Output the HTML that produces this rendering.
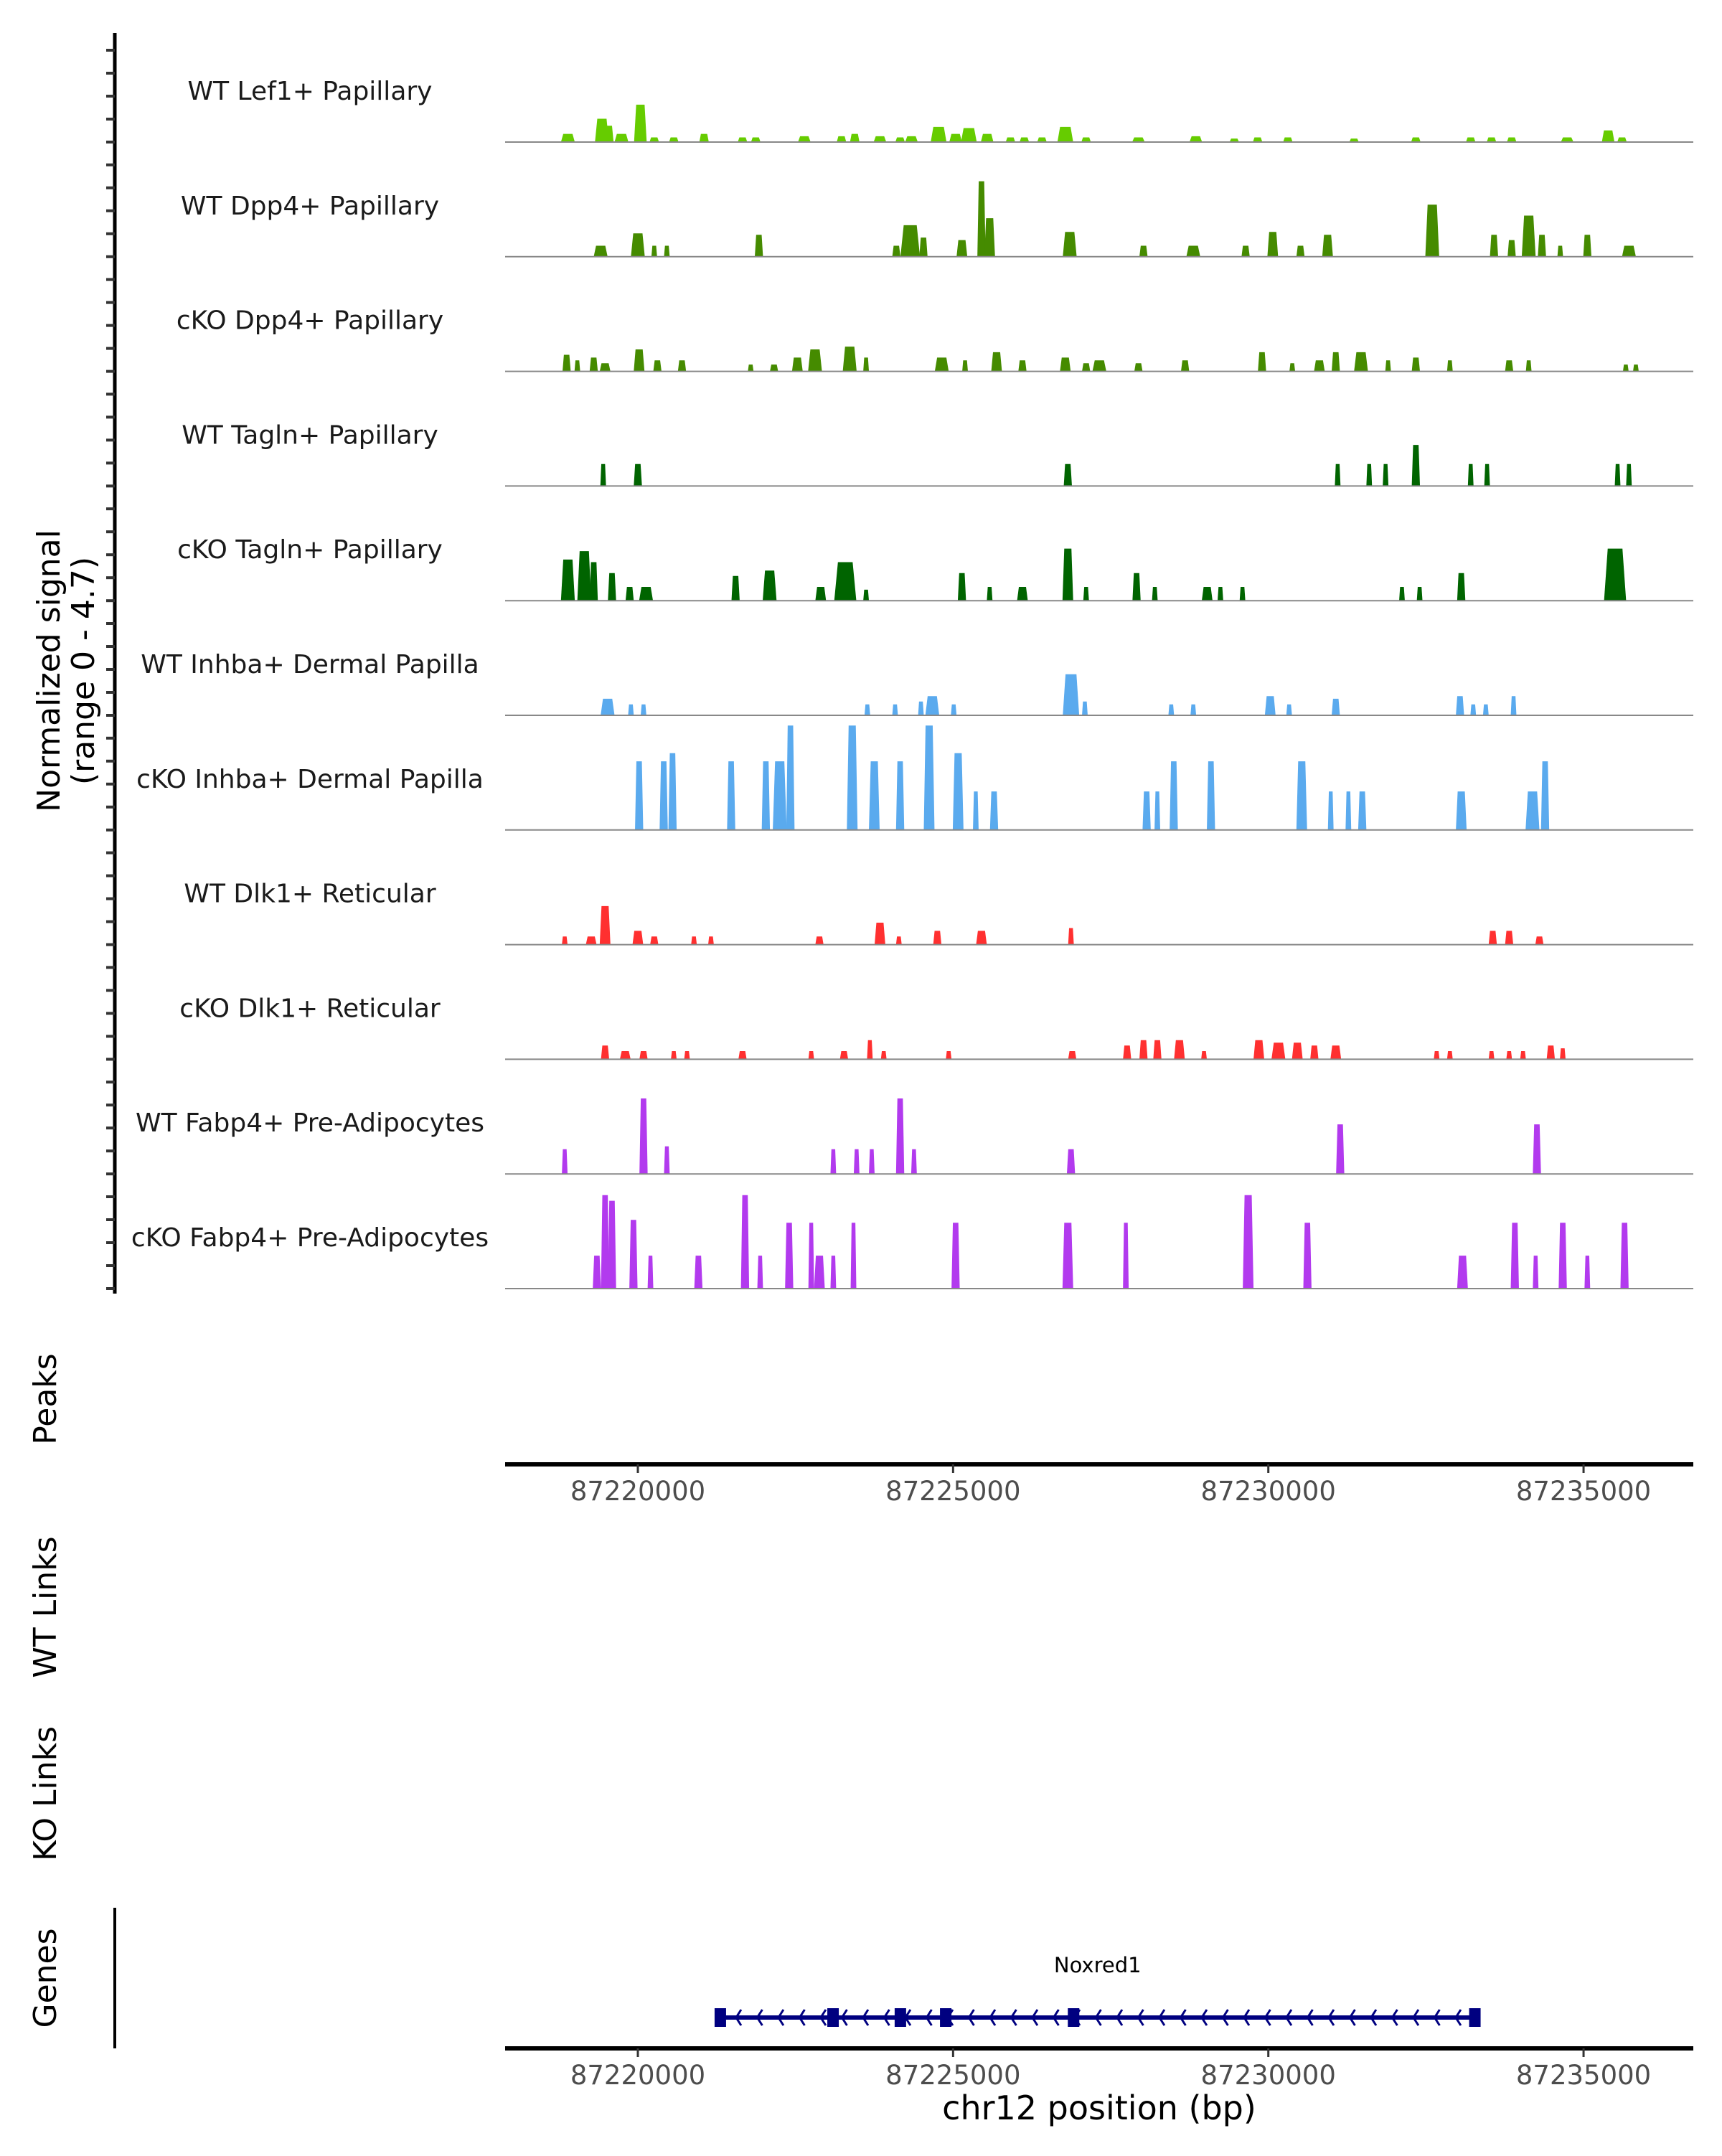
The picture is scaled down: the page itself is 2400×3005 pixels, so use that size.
<!DOCTYPE html>
<html><head><meta charset="utf-8"><style>
html,body{margin:0;padding:0;background:#fff}
svg text{font-family:"DejaVu Sans","Liberation Sans",sans-serif}
</style></head><body>
<svg id="chart" xmlns="http://www.w3.org/2000/svg" width="2400" height="3000" viewBox="0 0 2400 3000">
<rect width="2400" height="3000" fill="#fff"/>
<g id="tracks"></g>
<g id="leftaxis"></g>
<text transform="translate(91,935) rotate(-90)" font-size="44" text-anchor="middle"><tspan x="0" dy="-8">Normalized signal</tspan><tspan x="0" dy="48">(range 0 - 4.7)</tspan></text>
<text transform="translate(78,1950) rotate(-90)" font-size="44" text-anchor="middle">Peaks</text>
<text transform="translate(78,2240) rotate(-90)" font-size="44" text-anchor="middle">WT Links</text>
<text transform="translate(78,2500) rotate(-90)" font-size="44" text-anchor="middle">KO Links</text>
<text transform="translate(78,2757) rotate(-90)" font-size="44" text-anchor="middle">Genes</text>
<line x1="160" y1="2659" x2="160" y2="2855" stroke="#000" stroke-width="4"/>
<g id="xaxes"></g>
<g id="gene"></g>
<text x="1532" y="2954" font-size="46" text-anchor="middle">chr12 position (bp)</text>
</svg>
<script>
// ---- data (positions in kb on chr12, values in normalized signal, widths in kb) ----
const trackNames = ["WT Lef1+ Papillary","WT Dpp4+ Papillary","cKO Dpp4+ Papillary","WT Tagln+ Papillary","cKO Tagln+ Papillary","WT Inhba+ Dermal Papilla","cKO Inhba+ Dermal Papilla","WT Dlk1+ Reticular","cKO Dlk1+ Reticular","WT Fabp4+ Pre-Adipocytes","cKO Fabp4+ Pre-Adipocytes"];
const trackColors = ["#66cc00","#458b00","#458b00","#006400","#006400","#5aaaee","#5aaaee","#ff3030","#ff3030","#b23aee","#b23aee"];
const lef1WT = [[87218.89,0.35,0.22],[87219.43,1.0,0.22],[87219.54,0.7,0.15],[87219.74,0.35,0.22],[87220.04,1.6,0.2],[87220.26,0.2,0.15],[87220.57,0.2,0.15],[87221.05,0.35,0.15],[87221.66,0.2,0.15],[87221.87,0.2,0.15],[87222.64,0.25,0.2],[87223.23,0.25,0.15],[87223.44,0.35,0.15],[87223.84,0.25,0.2],[87224.16,0.2,0.15],[87224.34,0.25,0.2],[87224.77,0.65,0.25],[87225.04,0.35,0.2],[87225.25,0.6,0.25],[87225.54,0.35,0.2],[87225.91,0.2,0.15],[87226.13,0.2,0.15],[87226.41,0.2,0.15],[87226.78,0.65,0.25],[87227.11,0.2,0.15],[87227.94,0.2,0.2],[87228.85,0.25,0.2],[87229.46,0.15,0.15],[87229.83,0.2,0.15],[87230.31,0.2,0.15],[87231.36,0.15,0.15],[87232.34,0.2,0.15],[87233.21,0.2,0.15],[87233.54,0.2,0.15],[87233.86,0.2,0.15],[87234.74,0.2,0.2],[87235.39,0.5,0.2],[87235.61,0.2,0.15]];
const dpp4WT = [[87219.41,0.47,0.22],[87220.00,1.0,0.22],[87220.26,0.47,0.09],[87220.46,0.47,0.09],[87221.92,0.94,0.13],[87224.10,0.47,0.13],[87224.32,1.35,0.31],[87224.53,0.82,0.13],[87225.14,0.71,0.17],[87225.45,3.23,0.13],[87225.58,1.65,0.17],[87226.85,1.06,0.22],[87228.02,0.47,0.13],[87228.81,0.47,0.22],[87229.64,0.47,0.13],[87230.07,1.06,0.17],[87230.51,0.47,0.13],[87230.94,0.94,0.17],[87232.60,2.23,0.22],[87233.58,0.94,0.13],[87233.86,0.71,0.13],[87234.13,1.76,0.22],[87234.34,0.94,0.13],[87234.63,0.47,0.09],[87235.06,0.94,0.13],[87235.72,0.47,0.22]];
const dpp4KO = [[87218.87,0.71,0.13],[87219.04,0.47,0.09],[87219.30,0.59,0.13],[87219.48,0.35,0.17],[87220.02,0.94,0.17],[87220.31,0.47,0.13],[87220.70,0.47,0.13],[87221.79,0.29,0.09],[87222.16,0.29,0.13],[87222.53,0.59,0.17],[87222.81,0.94,0.22],[87223.36,1.06,0.22],[87223.62,0.59,0.09],[87224.82,0.59,0.22],[87225.19,0.47,0.09],[87225.69,0.82,0.17],[87226.10,0.47,0.13],[87226.78,0.59,0.17],[87227.11,0.35,0.13],[87227.32,0.47,0.22],[87227.94,0.35,0.13],[87228.68,0.47,0.13],[87229.90,0.82,0.13],[87230.38,0.35,0.09],[87230.81,0.47,0.17],[87231.07,0.82,0.13],[87231.47,0.82,0.22],[87231.90,0.47,0.09],[87232.34,0.59,0.13],[87232.88,0.47,0.09],[87233.82,0.47,0.13],[87234.13,0.47,0.09],[87235.67,0.29,0.09],[87235.83,0.29,0.09]];
const taglnWT = [[87219.45,0.94,0.09],[87220.00,0.94,0.13],[87226.82,0.94,0.13],[87231.10,0.94,0.09],[87231.60,0.94,0.09],[87231.86,0.94,0.09],[87232.34,1.76,0.13],[87233.21,0.94,0.09],[87233.47,0.94,0.09],[87235.54,0.94,0.09],[87235.72,0.94,0.09]];
const taglnKO = [[87218.89,1.76,0.22],[87219.15,2.12,0.22],[87219.30,1.65,0.13],[87219.59,1.18,0.13],[87219.87,0.59,0.13],[87220.13,0.59,0.22],[87221.55,1.06,0.13],[87222.09,1.29,0.22],[87222.90,0.59,0.17],[87223.29,1.65,0.35],[87223.62,0.47,0.09],[87225.14,1.18,0.13],[87225.58,0.59,0.09],[87226.10,0.59,0.17],[87226.82,2.23,0.17],[87227.11,0.59,0.09],[87227.91,1.18,0.13],[87228.20,0.59,0.09],[87229.03,0.59,0.17],[87229.24,0.59,0.09],[87229.59,0.59,0.09],[87232.12,0.59,0.09],[87232.40,0.59,0.09],[87233.06,1.18,0.13],[87235.50,2.23,0.35]];
const inhbaWT = [[87219.52,0.71,0.22],[87219.89,0.47,0.09],[87220.09,0.47,0.09],[87223.64,0.47,0.09],[87224.08,0.47,0.09],[87224.49,0.59,0.09],[87224.67,0.82,0.22],[87225.01,0.47,0.09],[87226.87,1.76,0.26],[87227.09,0.59,0.09],[87228.46,0.47,0.09],[87228.81,0.47,0.09],[87230.03,0.82,0.17],[87230.33,0.47,0.09],[87231.07,0.71,0.13],[87233.04,0.82,0.13],[87233.25,0.47,0.09],[87233.45,0.47,0.09],[87233.89,0.82,0.09]];
const inhbaKO = [[87220.02,2.94,0.13],[87220.41,2.94,0.13],[87220.55,3.29,0.13],[87221.48,2.94,0.13],[87222.03,2.94,0.13],[87222.25,2.94,0.22],[87222.42,4.47,0.13],[87223.40,4.47,0.17],[87223.75,2.94,0.17],[87224.16,2.94,0.13],[87224.62,4.47,0.17],[87225.08,3.29,0.17],[87225.36,1.65,0.09],[87225.65,1.65,0.13],[87228.07,1.65,0.13],[87228.24,1.65,0.09],[87228.50,2.94,0.13],[87229.09,2.94,0.13],[87230.53,2.94,0.17],[87230.99,1.65,0.09],[87231.27,1.65,0.09],[87231.49,1.65,0.13],[87233.06,1.65,0.17],[87234.19,1.65,0.22],[87234.39,2.94,0.13]];
const dlk1WT = [[87218.84,0.35,0.09],[87219.26,0.35,0.17],[87219.48,1.65,0.17],[87220.00,0.59,0.17],[87220.26,0.35,0.13],[87220.89,0.35,0.09],[87221.16,0.35,0.09],[87222.88,0.35,0.13],[87223.84,0.94,0.17],[87224.14,0.35,0.09],[87224.75,0.59,0.13],[87225.45,0.59,0.17],[87226.87,0.71,0.09],[87233.56,0.59,0.13],[87233.82,0.59,0.13],[87234.30,0.35,0.13]];
const dlk1KO = [[87219.48,0.59,0.13],[87219.80,0.35,0.17],[87220.09,0.35,0.13],[87220.57,0.35,0.09],[87220.78,0.35,0.09],[87221.66,0.35,0.13],[87222.75,0.35,0.09],[87223.27,0.35,0.13],[87223.68,0.82,0.09],[87223.90,0.35,0.09],[87224.93,0.35,0.09],[87226.89,0.35,0.13],[87227.76,0.59,0.13],[87228.02,0.82,0.13],[87228.24,0.82,0.13],[87228.59,0.82,0.17],[87228.98,0.35,0.09],[87229.85,0.82,0.17],[87230.16,0.71,0.22],[87230.46,0.71,0.17],[87230.73,0.59,0.13],[87231.07,0.59,0.17],[87232.67,0.35,0.09],[87232.88,0.35,0.09],[87233.54,0.35,0.09],[87233.82,0.35,0.09],[87234.04,0.35,0.09],[87234.48,0.59,0.13],[87234.67,0.47,0.09]];
const fabp4WT = [[87218.84,1.06,0.09],[87220.09,3.23,0.13],[87220.46,1.18,0.09],[87223.10,1.06,0.09],[87223.47,1.06,0.09],[87223.71,1.06,0.09],[87224.16,3.23,0.13],[87224.38,1.06,0.09],[87226.87,1.06,0.13],[87231.14,2.12,0.13],[87234.26,2.12,0.13]];
const fabp4KO = [[87219.35,1.41,0.13],[87219.48,4.0,0.13],[87219.59,3.76,0.13],[87219.93,2.94,0.13],[87220.20,1.41,0.09],[87220.96,1.41,0.13],[87221.70,4.0,0.13],[87221.94,1.41,0.09],[87222.40,2.82,0.13],[87222.75,2.82,0.09],[87222.88,1.41,0.17],[87223.10,1.41,0.09],[87223.42,2.82,0.09],[87225.04,2.82,0.13],[87226.82,2.82,0.17],[87227.74,2.82,0.09],[87229.68,4.0,0.17],[87230.62,2.82,0.13],[87233.08,1.41,0.17],[87233.91,2.82,0.13],[87234.24,1.41,0.09],[87234.67,2.82,0.13],[87235.06,1.41,0.09],[87235.65,2.82,0.13]];
const trackData = [lef1WT,dpp4WT,dpp4KO,taglnWT,taglnKO,inhbaWT,inhbaKO,dlk1WT,dlk1KO,fabp4WT,fabp4KO];
const xTicks = [87220000,87225000,87230000,87235000];
const geneName = "Noxred1";
const geneStart = 87221308, geneEnd = 87233276;
const exonPos = [87221308,87223096,87224164,87224883,87226911,87233276];

// ---- scales ----
const X0 = 704, X1 = 2360;
function xs(bp){ return 889 + (bp - 87220000) * 0.08787; }
const firstBase = 198, trackStep = 159.8, maxSignal = 4.7, trackPx = 153;
function ys(i, v){ return firstBase + i*trackStep - v / maxSignal * trackPx; }
const NS = "http://www.w3.org/2000/svg";
function mk(tag, attrs, parent){ const e=document.createElementNS(NS,tag); for(const k in attrs) e.setAttribute(k,attrs[k]); parent.appendChild(e); return e; }

const tracks = document.getElementById('tracks');
trackData.forEach((peaks, i) => {
  const g = mk('g', {}, tracks);
  
  
  const base = ys(i, 0);
  const lbl = mk('text', {x:432, y:base-59, 'font-size':36, 'text-anchor':'middle', fill:'#1a1a1a'}, g);
  lbl.textContent = trackNames[i];
  
  
  peaks.forEach(p => {
    const c = p[0]*1000, w = p[2]*1000, top = ys(i, p[1]);
    const a = xs(c - w/2), b = xs(c - w/3), d = xs(c + w/3), e = xs(c + w/2);
    const poly = mk('polygon', {points:`${a},${base} ${b},${top} ${d},${top} ${e},${base}`, fill:trackColors[i]}, g);
    
    
  });
  const bl = mk('line', {x1:X0, x2:X1, y1:base, y2:base, stroke:'#888', 'stroke-width':2}, g);
  
  
});

// left axis
const la = document.getElementById('leftaxis');
mk('line', {x1:160, x2:160, y1:46, y2:1803, stroke:'#000', 'stroke-width':5}, la);
for (let i=0;i<trackData.length;i++){
  for (let k=0;k<5;k++){
    const y = firstBase + i*trackStep - k*32;
    const t = mk('line', {x1:148, x2:160, y1:y, y2:y, stroke:'#333', 'stroke-width':4}, la);
    
    
  }
}

// x axes
const xa = document.getElementById('xaxes');
[2041, 2855].forEach(y => {
  const ax = mk('line', {x1:X0, x2:X1, y1:y, y2:y, stroke:'#000', 'stroke-width':6}, xa);
  
  
  xTicks.forEach(t => {
    const x = xs(t);
    mk('line', {x1:x, x2:x, y1:y, y2:y+12, stroke:'#333', 'stroke-width':3}, xa);
    const tl = mk('text', {x:x, y:y+50, 'font-size':37, 'text-anchor':'middle', fill:'#4d4d4d'}, xa);
    tl.textContent = t;
    
    
  });
});

// gene
const gg = document.getElementById('gene');
const gy = 2812;
mk('line', {x1:xs(geneStart), x2:xs(geneEnd), y1:gy, y2:gy, stroke:'#000080', 'stroke-width':6}, gg);
for (let x = xs(geneStart)+22; x < xs(geneEnd)-10; x += 29.5){
  mk('polyline', {points:`${x+7},${gy-11} ${x},${gy} ${x+7},${gy+11}`, fill:'none', stroke:'#000080', 'stroke-width':3}, gg);
}
exonPos.forEach(p => {
  const ex = mk('rect', {x:xs(p)-8, y:gy-13, width:16, height:26, fill:'#000080'}, gg);
  
  
});
const gl = mk('text', {x:(xs(geneStart)+xs(geneEnd))/2, y:2749, 'font-size':29, 'text-anchor':'middle', fill:'#000'}, gg);
gl.textContent = geneName;


</script>
</body></html>
